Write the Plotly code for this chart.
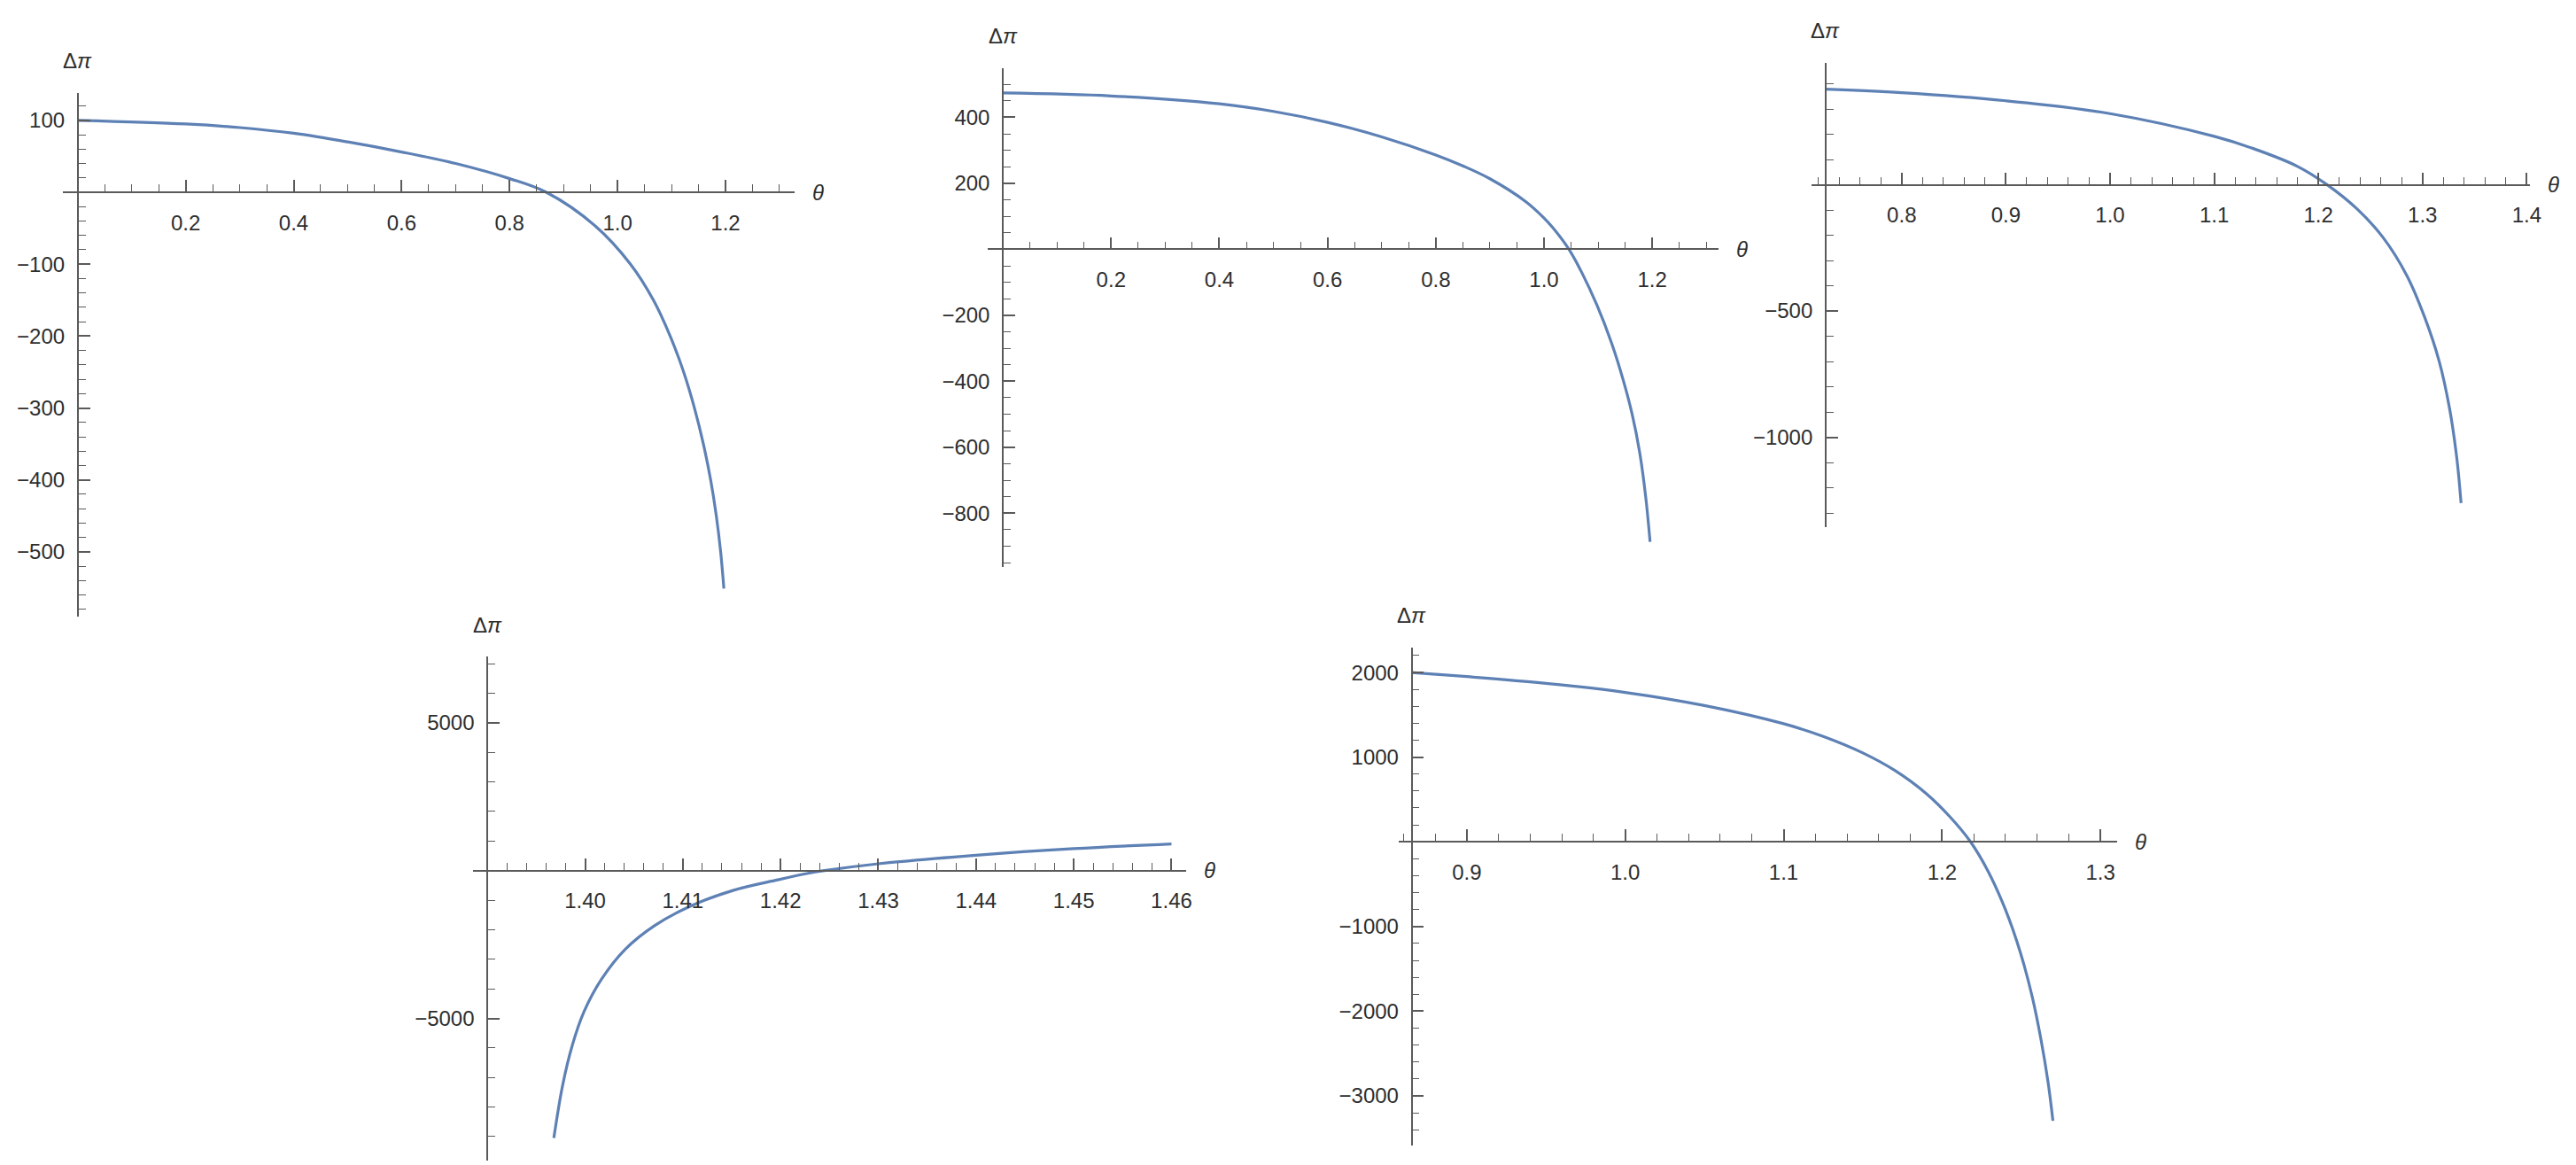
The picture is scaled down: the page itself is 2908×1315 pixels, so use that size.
import plotly.graph_objects as go

# ---- data ----
theta_a = [0.0, 0.2, 0.3, 0.4, 0.5, 0.6, 0.7, 0.8, 0.868, 0.959, 1.024, 1.0665, 1.0975, 1.1225, 1.1425, 1.159, 1.1725, 1.183, 1.191, 1.197]
dpi_a = [100, 95, 90, 82, 70, 56, 40, 19, 0, -47, -100, -150, -200, -250, -300, -350, -400, -450, -500, -551]

theta_b = [0.0, 0.2, 0.4, 0.5, 0.6, 0.7, 0.8, 0.85, 0.9, 0.966, 1.0, 1.016, 1.046, 1.070, 1.098, 1.125, 1.147, 1.163, 1.177, 1.188, 1.196]
dpi_b = [474, 465, 441, 418, 385, 341, 286, 253, 214, 145, 95, 66, 0, -71, -170, -285, -400, -501, -618, -752, -887]

theta_c = [0.727, 0.8, 0.9, 1.0, 1.1, 1.138, 1.180, 1.2085, 1.237, 1.262, 1.285, 1.302, 1.316, 1.326, 1.333, 1.337]
dpi_c = [379, 365, 333, 282, 192, 143, 73, 0, -95, -208, -360, -524, -699, -887, -1086, -1261]

theta_d = [1.3968, 1.3977, 1.3987, 1.3999, 1.4017, 1.4041, 1.4071, 1.4107, 1.4152, 1.4197, 1.4227, 1.4245, 1.43, 1.44, 1.45, 1.46]
dpi_d = [-9049, -7265, -5900, -4765, -3665, -2665, -1865, -1215, -665, -315, -100, 0, 230, 520, 741, 903]

theta_e = [0.865, 0.9, 0.95, 1.0, 1.05, 1.1, 1.125, 1.15, 1.17, 1.19, 1.205, 1.218, 1.229, 1.240, 1.2495, 1.257, 1.2625, 1.267, 1.270]
dpi_e = [2000, 1952, 1872, 1765, 1610, 1395, 1245, 1050, 845, 570, 295, 0, -345, -800, -1310, -1835, -2340, -2850, -3295]

# tick values (origin labels are left out, as in the original)
xt_a = [0.2, 0.4, 0.6, 0.8, 1.0, 1.2]
yt_a = [-500, -400, -300, -200, -100, 100]
xt_b = [0.2, 0.4, 0.6, 0.8, 1.0, 1.2]
yt_b = [-800, -600, -400, -200, 200, 400]
xt_c = [0.8, 0.9, 1.0, 1.1, 1.2, 1.3, 1.4]
yt_c = [-1000, -500]
xt_d = [1.40, 1.41, 1.42, 1.43, 1.44, 1.45, 1.46]
yt_d = [-5000, 5000]
xt_e = [0.9, 1.0, 1.1, 1.2, 1.3]
yt_e = [-3000, -2000, -1000, 1000, 2000]

# ---- layout of each panel (pixels of the 2908x1315 page) ----
W, H = 2908, 1315
CURVE = '#5E81B5'
AXIS = '#5a5a5a'
TEXT = '#2e2e2e'
FONT = 'Liberation Sans, Arial, sans-serif'

panels = [
    dict(x=theta_a, y=dpi_a, xt=xt_a, yt=yt_a, xfmt='{:.1f}', xpx=(63, 893), ypx=(97, 688),
         xr=(-0.028, 1.328), yr=(-590, 138), cross=(0.0, 0.0), xminor=0.05, yminor=20),
    dict(x=theta_b, y=dpi_b, xt=xt_b, yt=yt_b, xfmt='{:.1f}', xpx=(1112, 1941), ypx=(69, 632),
         xr=(-0.028, 1.323), yr=(-963, 549), cross=(0.0, 0.0), xminor=0.05, yminor=50),
    dict(x=theta_c, y=dpi_c, xt=xt_c, yt=yt_c, xfmt='{:.1f}', xpx=(2046, 2861), ypx=(63, 587),
         xr=(0.7133, 1.4033), yr=(-1356, 483), cross=(0.727, 0.0), xminor=0.02, yminor=100),
    dict(x=theta_d, y=dpi_d, xt=xt_d, yt=yt_d, xfmt='{:.2f}', xpx=(528, 1337), ypx=(733, 1302),
         xr=(1.3885, 1.4615), yr=(-9810, 7243), cross=(1.39, 0.0), xminor=0.002, yminor=1000),
    dict(x=theta_e, y=dpi_e, xt=xt_e, yt=yt_e, xfmt='{:.1f}', xpx=(1578, 2393), ypx=(723, 1285),
         xr=(0.857, 1.3107), yr=(-3587, 2294), cross=(0.8652, 0.0), xminor=0.02, yminor=200),
]


def fmt_num(v, f):
    return f.format(v).replace('-', '\u2212')


fig = go.Figure()
annotations = []
for i, p in enumerate(panels, start=1):
    sfx = '' if i == 1 else str(i)
    fig.add_trace(go.Scatter(
        x=p['x'], y=p['y'], mode='lines',
        line=dict(color=CURVE, width=3.2, shape='spline', smoothing=1.0),
        xaxis='x' + sfx, yaxis='y' + sfx, hoverinfo='skip', showlegend=False))

    x0, x1 = p['xpx']
    ytop, ybot = p['ypx']
    xdom = [x0 / W, x1 / W]
    ydom = [1 - ybot / H, 1 - ytop / H]
    xr, yr = p['xr'], p['yr']
    cx, cy = p['cross']
    # where the axes cross, in paper fractions
    xaxis_pos = ydom[0] + (cy - yr[0]) / (yr[1] - yr[0]) * (ydom[1] - ydom[0])
    yaxis_pos = xdom[0] + (cx - xr[0]) / (xr[1] - xr[0]) * (xdom[1] - xdom[0])

    common = dict(showgrid=False, zeroline=False, showline=True, linecolor=AXIS, linewidth=1.7,
                  ticks='inside', ticklen=13, tickwidth=1.5, tickcolor=AXIS,
                  tickfont=dict(family=FONT, size=24, color=TEXT), anchor='free', fixedrange=True)
    fig.layout['xaxis' + sfx] = dict(
        common, domain=xdom, range=list(xr), position=xaxis_pos,
        tickmode='array', tickvals=p['xt'], ticktext=[fmt_num(v, p['xfmt']) for v in p['xt']],
        ticklabelstandoff=13,
        minor=dict(ticks='inside', ticklen=8, tickwidth=1.3, tickcolor=AXIS,
                   tickmode='linear', tick0=0, dtick=p['xminor']))
    fig.layout['yaxis' + sfx] = dict(
        common, domain=ydom, range=list(yr), position=yaxis_pos,
        tickmode='array', tickvals=p['yt'], ticktext=[fmt_num(v, '{:d}') for v in p['yt']],
        ticklabelstandoff=9,
        minor=dict(ticks='inside', ticklen=8, tickwidth=1.3, tickcolor=AXIS,
                   tickmode='linear', tick0=0, dtick=p['yminor']))

    # axis labels
    annotations.append(dict(text='\u0394<i>\u03c0</i>', xref='paper', yref='paper',
                            x=yaxis_pos, y=ydom[1], yshift=36, showarrow=False,
                            xanchor='center', yanchor='middle',
                            font=dict(family=FONT, size=24, color=TEXT)))
    annotations.append(dict(text='<i>\u03b8</i>', xref='paper', yref='paper',
                            x=xdom[1], y=xaxis_pos, xshift=26, showarrow=False,
                            xanchor='center', yanchor='middle',
                            font=dict(family=FONT, size=24, color=TEXT)))

fig.update_layout(
    width=W, height=H,
    margin=dict(l=0, r=0, t=0, b=0),
    paper_bgcolor='white', plot_bgcolor='white',
    showlegend=False,
    annotations=annotations,
)

fig.write_html("out.html")
